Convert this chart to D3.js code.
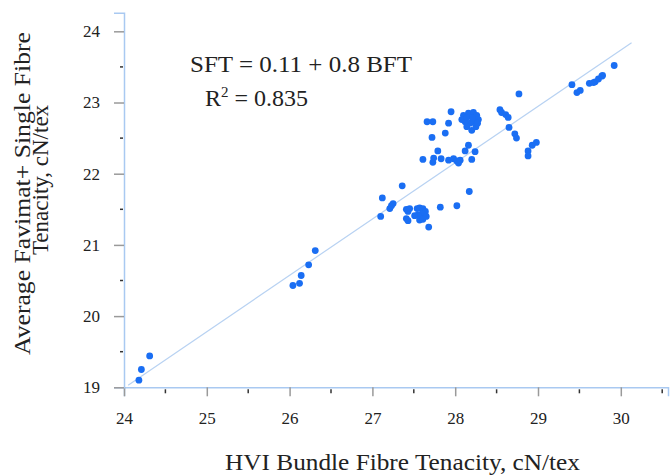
<!DOCTYPE html>
<html>
<head>
<meta charset="utf-8">
<script src="https://cdn.jsdelivr.net/npm/d3@7"></script>
<style>
  body { margin: 0; background: #fff; }
  text { font-family: "Liberation Serif", "Times New Roman", serif; fill: #222; }
</style>
</head>
<body>
<div id="scatter"></div>
<script>
var svgWidth = 670;
var svgHeight = 475;

// HVI bundle tenacity (x) vs Favimat single fibre tenacity (y)
var bundleTenacity = [
  24.18, 24.21, 24.31,
  26.04, 26.12, 26.14, 26.23, 26.31,
  27.10, 27.12, 27.21, 27.23, 27.25, 27.36, 27.41, 27.43, 27.45, 27.54,
  27.57, 27.61, 27.64, 27.60, 27.55, 27.51, 27.41, 27.43, 27.57, 27.61,
  27.65, 27.68, 27.82, 28.02, 28.17,
  27.95, 27.66, 27.73, 27.92, 27.72, 27.88, 27.79, 27.61, 27.74, 27.73,
  27.83, 27.92, 27.98, 28.02, 28.04, 28.06, 28.12, 28.16, 28.20, 28.24,
  28.10, 28.16, 28.22, 28.26, 28.28, 28.24, 28.18, 28.12, 28.08, 28.14,
  28.20, 28.25, 28.14, 28.21, 28.27,
  28.77, 28.54, 28.56, 28.61, 28.64, 28.65, 28.72, 28.74, 28.93, 28.98,
  28.88, 28.88,
  29.92, 29.41, 29.47, 29.51, 29.62, 29.69, 29.73, 29.77, 29.67, 29.78
];
var singleTenacity = [
  19.10, 19.25, 19.44,
  20.43, 20.46, 20.57, 20.72, 20.92,
  21.40, 21.66, 21.51, 21.55, 21.58, 21.83, 21.50, 21.47, 21.51, 21.51,
  21.52, 21.51, 21.47, 21.44, 21.42, 21.41, 21.37, 21.34, 21.35, 21.36,
  21.40, 21.25, 21.53, 21.55, 21.75,
  22.87, 22.73, 22.73, 22.71, 22.51, 22.57, 22.32, 22.20, 22.22, 22.16,
  22.21, 22.19, 22.21, 22.18, 22.15, 22.19, 22.32, 22.40, 22.20, 22.31,
  22.82, 22.85, 22.86, 22.82, 22.76, 22.73, 22.71, 22.73, 22.76, 22.66,
  22.61, 22.66, 22.79, 22.78, 22.71,
  23.12, 22.90, 22.86, 22.83, 22.79, 22.65, 22.56, 22.50, 22.40, 22.44,
  22.32, 22.25,
  23.52, 23.25, 23.14, 23.17, 23.27, 23.29, 23.33, 23.37, 23.28, 23.38
];

// fitted line end points as drawn
var fitX = [24.05, 30.13];
var fitY = [19.03, 23.84];

var xTicks = [24, 25, 26, 27, 28, 29, 30];
var yTicks = [19, 20, 21, 22, 23, 24];
var xMinor = [24.5, 25.5, 26.5, 27.5, 28.5, 29.5, 30.5];
var yMinor = [19.5, 20.5, 21.5, 22.5, 23.5];

var svg = d3.select("#scatter")
  .append("svg")
  .attr("width", svgWidth)
  .attr("height", svgHeight);

var xScale = d3.scaleLinear()
  .domain([24, 30.57])
  .range([124, 668]);

var yScale = d3.scaleLinear()
  .domain([19, 24.26])
  .range([387.3, 12.8]);

var axisBlue = "#a9c9f1";

// major ticks (grey) drawn with d3 axes
var bottomAxis = d3.axisBottom(xScale)
  .tickValues(xTicks)
  .tickSize(9)
  .tickPadding(16)
  .tickFormat(d3.format("d"));

var leftAxis = d3.axisLeft(yScale)
  .tickValues(yTicks)
  .tickSize(10)
  .tickPadding(14)
  .tickFormat(d3.format("d"));

var xAxisG = svg.append("g")
  .attr("transform", `translate(0, ${yScale(19)})`)
  .call(bottomAxis);

var yAxisG = svg.append("g")
  .attr("transform", `translate(${xScale(24)}, 0)`)
  .call(leftAxis);

[xAxisG, yAxisG].forEach(function(g) {
  g.attr("font-family", "Liberation Serif");
  g.select(".domain").attr("stroke", axisBlue).attr("stroke-width", 1.5);
  g.selectAll(".tick line").attr("stroke", "#9a9a9a").attr("stroke-width", 1.5);
  g.selectAll(".tick text")
    .attr("font-size", 17)
    .attr("fill", "#222");
});

// minor ticks (short, dark)
svg.append("g").selectAll("line")
  .data(xMinor)
  .enter()
  .append("line")
  .attr("x1", d => xScale(d))
  .attr("x2", d => xScale(d))
  .attr("y1", yScale(19) + 2)
  .attr("y2", yScale(19) + 6)
  .attr("stroke", "#333")
  .attr("stroke-width", 1.5);

svg.append("g").selectAll("line")
  .data(yMinor)
  .enter()
  .append("line")
  .attr("x1", xScale(24) - 4)
  .attr("x2", xScale(24) - 1)
  .attr("y1", d => yScale(d))
  .attr("y2", d => yScale(d))
  .attr("stroke", "#333")
  .attr("stroke-width", 1.5);

// regression line
svg.append("line")
  .attr("x1", xScale(fitX[0]))
  .attr("y1", yScale(fitY[0]))
  .attr("x2", xScale(fitX[1]))
  .attr("y2", yScale(fitY[1]))
  .attr("stroke", "#b8d2f2")
  .attr("stroke-width", 1.2);

// points
svg.append("g").selectAll("circle")
  .data(bundleTenacity)
  .enter()
  .append("circle")
  .attr("cx", d => xScale(d))
  .attr("cy", (d, i) => yScale(singleTenacity[i]))
  .attr("r", 3.4)
  .attr("fill", "#1a6ef3");

// equation
svg.append("text")
  .attr("x", 190)
  .attr("y", 72)
  .attr("font-size", 24)
  .attr("textLength", 222)
  .attr("lengthAdjust", "spacingAndGlyphs")
  .text("SFT = 0.11 + 0.8 BFT");

var r2 = svg.append("text")
  .attr("x", 205)
  .attr("y", 106)
  .attr("font-size", 24);
r2.append("tspan").text("R");
r2.append("tspan").attr("dy", -9).attr("font-size", 15).text("2");
r2.append("tspan").attr("dy", 9).text(" = 0.835");

// axis titles
svg.append("text")
  .attr("x", 225)
  .attr("y", 470)
  .attr("font-size", 23)
  .attr("textLength", 355)
  .attr("lengthAdjust", "spacingAndGlyphs")
  .text("HVI Bundle Fibre Tenacity, cN/tex");

svg.append("text")
  .attr("transform", "translate(30, 355) rotate(-90)")
  .attr("font-size", 23)
  .attr("textLength", 323)
  .attr("lengthAdjust", "spacingAndGlyphs")
  .text("Average Favimat+ Single Fibre");

svg.append("text")
  .attr("transform", "translate(48, 180) rotate(-90)")
  .attr("text-anchor", "middle")
  .attr("font-size", 23)
  .text("Tenacity, cN/tex");
</script>
</body>
</html>
